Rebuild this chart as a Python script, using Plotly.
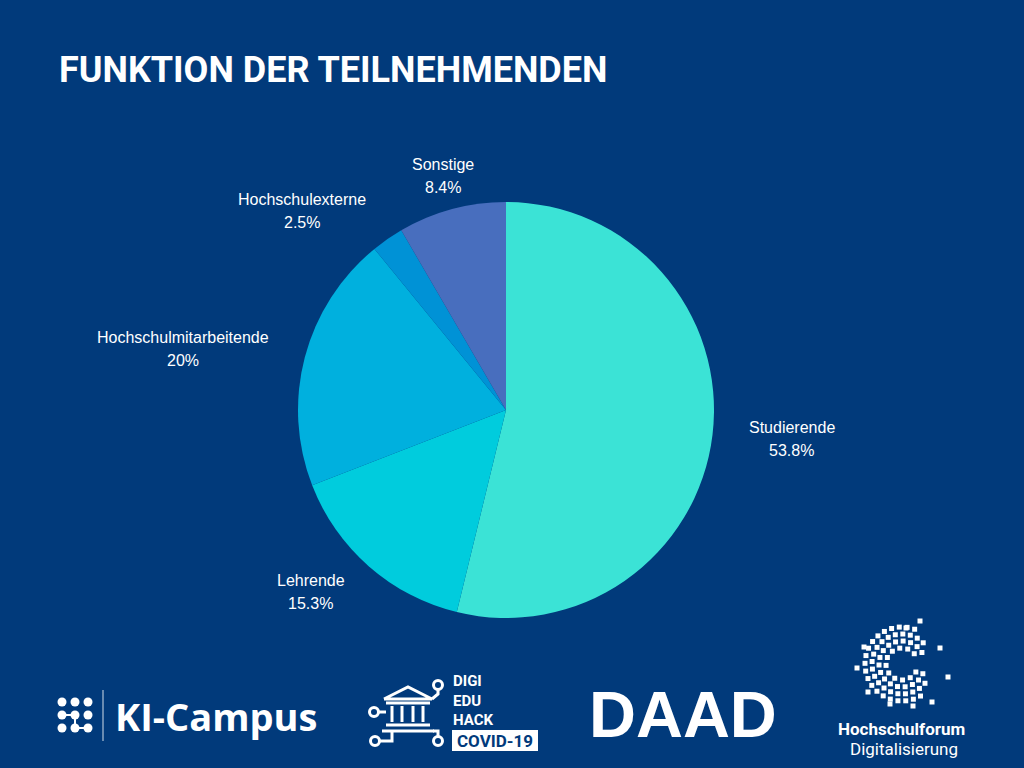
import math
import plotly.graph_objects as go

# ---------------- data ----------------
categories = ["Studierende", "Lehrende", "Hochschulmitarbeitende", "Hochschulexterne", "Sonstige"]
shares = [53.8, 15.3, 20.0, 2.5, 8.4]
slice_colors = ["#3BE3D6", "#00CCDD", "#00B0DE", "#0092D6", "#486EBE"]
title_text = "FUNKTION DER TEILNEHMENDEN"

# ---------------- layout constants ----------------
W, H = 1024, 768
BG = "#013A7B"
PIE_CX, PIE_CY, PIE_R = 506, 410, 208
# label placement (distance from pie centre, angular nudge in degrees)
LABEL_DIST = [287, 267, 329, 285, 242]
LABEL_NUDGE = [-1.1, 5.7, -4.1, -11.1, 0.0]


def fmt_pct(v):
    s = f"{v:.1f}"
    if s.endswith(".0"):
        s = s[:-2]
    return s + "%"


fig = go.Figure()

# pie
fig.add_trace(go.Pie(
    labels=categories,
    values=shares,
    sort=False,
    direction="clockwise",
    rotation=0,
    marker=dict(colors=slice_colors, line=dict(width=0)),
    textinfo="none",
    hoverinfo="skip",
    domain=dict(
        x=[(PIE_CX - PIE_R) / W, (PIE_CX + PIE_R) / W],
        y=[1 - (PIE_CY + PIE_R) / H, 1 - (PIE_CY - PIE_R) / H],
    ),
    showlegend=False,
))

annotations = []

# pie labels, positioned from slice mid-angles
total = sum(shares)
cum = 0.0
for name, v, dist, nudge in zip(categories, shares, LABEL_DIST, LABEL_NUDGE):
    mid = (cum + v / 2) / total * 360.0 + nudge
    cum += v
    th = math.radians(mid)
    lx = PIE_CX + dist * math.sin(th)
    ly = PIE_CY - dist * math.cos(th)
    for txt, dy in ((name, -11.5), (fmt_pct(v), 11.5)):
        annotations.append(dict(
            x=lx, y=ly + dy, xref="x", yref="y", text=txt, showarrow=False,
            xanchor="center", yanchor="middle",
            font=dict(family="Liberation Sans, Arial", size=16, color="white"),
        ))

# title
annotations.append(dict(
    x=57, y=70, xref="x", yref="y", text=title_text, showarrow=False,
    xanchor="left", yanchor="middle",
    font=dict(family="Roboto", size=36, color="white", weight="bold"),
))

# ---------------- logos (decoration) ----------------
white = "white"
# KI-Campus dot grid
dx_ = [62, 75, 88]
dy_ = [702, 715, 728]
fig.add_trace(go.Scatter(
    x=[62, 75, None, 75, 75, None, 75, 88], y=[715, 715, None, 715, 728, None, 728, 728],
    mode="lines", line=dict(color=white, width=2), hoverinfo="skip", showlegend=False))
fig.add_trace(go.Scatter(
    x=[xx for yy in dy_ for xx in dx_], y=[yy for yy in dy_ for xx in dx_],
    mode="markers", marker=dict(color=white, size=9, symbol="circle"),
    hoverinfo="skip", showlegend=False))
fig.add_trace(go.Scatter(
    x=[103, 103], y=[690, 741], mode="lines",
    line=dict(color="rgba(255,255,255,0.55)", width=1.5), hoverinfo="skip", showlegend=False))
annotations.append(dict(
    x=113, y=716, xref="x", yref="y", text="KI-Campus", showarrow=False,
    xanchor="left", yanchor="middle",
    font=dict(family="Open Sans", size=38, color="white", weight="bold"),
))

# DIGI EDU HACK building icon
icon_x = [384, 408, 432, 384, None, 386, 430, None,
          392, 392, None, 402, 402, None, 413, 413, None, 423, 423, None,
          386, 430, None, 382, 434, None,
          432, 438, 438, None, 379, 386, None, 380, 392, 392, None, 433, 438, 438]
icon_y = [699, 687, 699, 699, None, 703, 703, None,
          706, 722, None, 706, 722, None, 706, 722, None, 706, 722, None,
          725, 725, None, 731, 731, None,
          699, 694, 689, None, 712, 712, None, 741, 741, 731, None, 731, 731, 736]
fig.add_trace(go.Scatter(x=icon_x, y=icon_y, mode="lines",
                         line=dict(color=white, width=3), hoverinfo="skip", showlegend=False))
fig.add_trace(go.Scatter(x=[438, 374, 375, 438], y=[685, 712, 741, 741], mode="markers",
                         marker=dict(symbol="circle-open", size=9, color=white, line=dict(width=3)),
                         hoverinfo="skip", showlegend=False))
annotations.append(dict(
    x=451, y=700, xref="x", yref="y", text="DIGI<br>EDU<br>HACK", showarrow=False,
    xanchor="left", yanchor="middle", align="left",
    font=dict(family="Roboto", size=15, color="white", weight="bold"),
))
fig.add_shape(type="rect", xref="x", yref="y", x0=452, x1=538, y0=730, y1=751,
              fillcolor="white", line=dict(width=0))
annotations.append(dict(
    x=495, y=741, xref="x", yref="y", text="COVID-19", showarrow=False,
    xanchor="center", yanchor="middle",
    font=dict(family="Roboto", size=17, color=BG, weight="bold"),
))

# DAAD
annotations.append(dict(
    x=587, y=714, xref="x", yref="y", text="DAAD", showarrow=False,
    xanchor="left", yanchor="middle",
    font=dict(family="Liberation Sans, Arial", size=65, color="white", weight="bold"),
))

# Hochschulforum Digitalisierung icon (arcs of small squares)
hx, hy = [], []
cx0, cy0 = 902, 664
for r, a0, a1 in ((16, 40, 330), (23, 30, 335), (30, 45, 320), (37, 70, 300)):
    n = max(3, int(math.radians(a1 - a0) * r / 7.5))
    for k in range(n + 1):
        a = math.radians(a0 + (a1 - a0) * k / n)
        hx.append(cx0 + r * math.cos(a))
        hy.append(cy0 - r * math.sin(a))
extra = [(920, 621), (906, 628), (864, 647), (857, 668), (868, 692), (932, 702),
         (948, 677), (940, 648), (890, 704), (913, 706)]
hx += [p[0] for p in extra]
hy += [p[1] for p in extra]
fig.add_trace(go.Scatter(x=hx, y=hy, mode="markers",
                         marker=dict(symbol="square", size=5, color=white),
                         hoverinfo="skip", showlegend=False))
annotations.append(dict(
    x=901, y=729, xref="x", yref="y", text="Hochschulforum", showarrow=False,
    xanchor="center", yanchor="middle",
    font=dict(family="Roboto", size=17, color="white", weight="bold"),
))
annotations.append(dict(
    x=904, y=749, xref="x", yref="y", text="Digitalisierung", showarrow=False,
    xanchor="center", yanchor="middle",
    font=dict(family="Roboto", size=17, color="white"),
))

fig.update_layout(
    width=W, height=H,
    margin=dict(l=0, r=0, t=0, b=0, pad=0),
    paper_bgcolor=BG, plot_bgcolor=BG,
    xaxis=dict(range=[0, W], visible=False, fixedrange=True, domain=[0, 1]),
    yaxis=dict(range=[H, 0], visible=False, fixedrange=True, domain=[0, 1]),
    annotations=annotations,
    showlegend=False,
    hovermode=False,
)

fig.write_html("out.html", config={"displayModeBar": False},
               post_script="document.body.style.margin='0';document.body.style.overflow='hidden';")
